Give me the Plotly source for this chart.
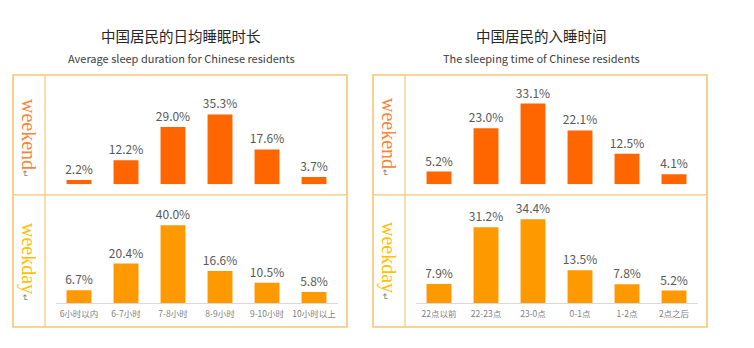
import plotly.graph_objects as go

# ---- data ----
duration_cats = ["6小时以内", "6-7小时", "7-8小时", "8-9小时", "9-10小时", "10小时以上"]
duration_weekend = [2.2, 12.2, 29.0, 35.3, 17.6, 3.7]
duration_weekday = [6.7, 20.4, 40.0, 16.6, 10.5, 5.8]

bedtime_cats = ["22点以前", "22-23点", "23-0点", "0-1点", "1-2点", "2点之后"]
bedtime_weekend = [5.2, 23.0, 33.1, 22.1, 12.5, 4.1]
bedtime_weekday = [7.9, 31.2, 34.4, 13.5, 7.8, 5.2]

left_title = "中国居民的日均睡眠时长"
left_subtitle = "Average sleep duration for Chinese residents"
right_title = "中国居民的入睡时间"
right_subtitle = "The sleeping time of Chinese residents"

# ---- styling ----
W, H = 754, 348
FONT = "Noto Sans CJK SC"
WEEKEND_BAR = "#FF6600"
WEEKDAY_BAR = "#FF9900"
WEEKEND_TEXT = "#F7843C"
WEEKDAY_TEXT = "#FFC000"
BOX = "#F6C774"
LABEL_GRAY = "#595959"
TICK_GRAY = "#7F7F7F"


def px_x(v):
    return v / W


def px_y(v):
    return 1 - v / H


fig = go.Figure()

panels = [
    # (categories, values, bar colour, x-axis id, y-axis id, show ticks, x domain px, y domain px, px per %)
    (duration_cats, duration_weekend, WEEKEND_BAR, "x", "y", False, (55.5, 337.5), (184.3, 80), 1.98),
    (duration_cats, duration_weekday, WEEKDAY_BAR, "x2", "y2", True, (55.5, 337.5), (303.3, 200), 1.95),
    (bedtime_cats, bedtime_weekend, WEEKEND_BAR, "x3", "y3", False, (415.5, 697.5), (184.3, 80), 2.44),
    (bedtime_cats, bedtime_weekday, WEEKDAY_BAR, "x4", "y4", True, (415.5, 697.5), (303.3, 200), 2.44),
]

layout_axes = {}
for i, (cats, vals, color, xa, ya, ticks, xdom, ydom, scale) in enumerate(panels):
    fig.add_trace(go.Bar(
        x=cats, y=vals, xaxis=xa, yaxis=ya,
        marker=dict(color=color, line=dict(width=0)),
        width=0.53,
        text=[f"{v:.1f}%" for v in vals],
        textposition="outside",
        constraintext="none",
        textfont=dict(family=FONT, size=12, color=LABEL_GRAY),
        cliponaxis=False,
        hoverinfo="x+y",
        showlegend=False,
    ))
    suffix = "" if i == 0 else str(i + 1)
    layout_axes["xaxis" + suffix] = dict(
        domain=[px_x(xdom[0]), px_x(xdom[1])],
        anchor=ya,
        type="category",
        range=[-0.5, 5.5],
        showgrid=False,
        zeroline=False,
        showline=ticks,
        linecolor="#D9D9D9",
        linewidth=1,
        ticks="outside",
        ticklen=2,
        tickcolor="rgba(0,0,0,0)",
        showticklabels=ticks,
        tickfont=dict(family=FONT, size=8.5, color=TICK_GRAY),
        fixedrange=True,
    )
    layout_axes["yaxis" + suffix] = dict(
        domain=[px_y(ydom[0]), px_y(ydom[1])],
        anchor=xa,
        range=[0, (ydom[0] - ydom[1]) / scale],
        visible=False,
        fixedrange=True,
    )

fig.update_layout(**layout_axes)

# ---- frames around each chart ----
shapes = []
for left, col, right in [(13, 45, 347), (373, 405, 707)]:
    shapes.append(dict(type="rect", xref="paper", yref="paper",
                       x0=px_x(left), x1=px_x(right), y0=px_y(327), y1=px_y(75),
                       line=dict(color=BOX, width=1.6)))
    shapes.append(dict(type="line", xref="paper", yref="paper",
                       x0=px_x(col), x1=px_x(col), y0=px_y(327), y1=px_y(75),
                       line=dict(color=BOX, width=1.2)))
    shapes.append(dict(type="line", xref="paper", yref="paper",
                       x0=px_x(left), x1=px_x(right), y0=px_y(194.8), y1=px_y(194.8),
                       line=dict(color=BOX, width=1.2)))

annotations = []
# titles
for cx, title, sub in [(181, left_title, left_subtitle), (541, right_title, right_subtitle)]:
    annotations.append(dict(x=px_x(cx), y=px_y(36), xref="paper", yref="paper",
                            text=title, showarrow=False, xanchor="center", yanchor="middle",
                            font=dict(family=FONT, size=14.5, color="#262626")))
    annotations.append(dict(x=px_x(cx), y=px_y(58), xref="paper", yref="paper",
                            text=sub, showarrow=False, xanchor="center", yanchor="middle",
                            font=dict(family=FONT, size=11, color="#404040")))

# vertical row labels
for cx in (29, 389):
    for cy, word, color in [(138, "weekend", WEEKEND_TEXT), (262, "weekday", WEEKDAY_TEXT)]:
        annotations.append(dict(
            x=px_x(cx), y=px_y(cy), xref="paper", yref="paper",
            text=f"{word}<span style='font-size:9px;color:#808080'>↵</span>",
            textangle=90, showarrow=False, xanchor="center", yanchor="middle",
            font=dict(family="Liberation Serif", size=20, color=color),
        ))

fig.update_layout(
    width=W, height=H,
    margin=dict(l=0, r=0, t=0, b=0),
    paper_bgcolor="white",
    plot_bgcolor="rgba(0,0,0,0)",
    shapes=shapes,
    annotations=annotations,
    bargap=0.47,
)

fig.write_html("out.html")
